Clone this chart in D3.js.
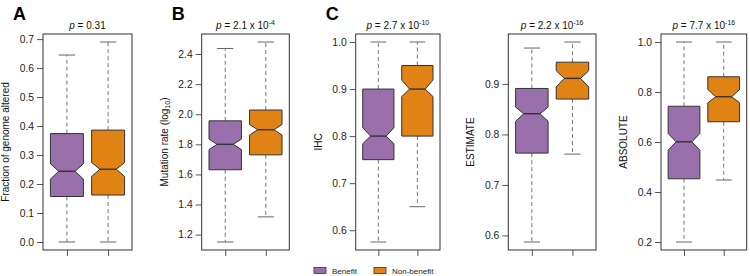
<!DOCTYPE html>
<html>
<head>
<meta charset="utf-8">
<script src="https://cdn.jsdelivr.net/npm/d3@7"></script>
<style>
  body { margin: 0; background: #fff; }
  svg { font-family: "Liberation Sans", Arial, sans-serif; }
</style>
</head>
<body>
<div id="vis"></div>
<script>
// panel data
const panelNames = ["Fraction of genome altered", "Mutation rate", "IHC", "ESTIMATE", "ABSOLUTE"];
const panelLetters = ["A", "B", "C", "", ""];
// p values as [mantissa, exponent]; exponent null means plain number
const pMantissa = ["0.31", "2.1", "2.7", "2.2", "7.7"];
const pExponent = [null, "-4", "-10", "-16", "-16"];
const groups = ["Benefit", "Non-benefit"];

// [whisker low, Q1, notch low, median, notch high, Q3, whisker high]
const benefitBoxes = [
  [0.0, 0.157, 0.217, 0.244, 0.270, 0.374, 0.645],
  [1.151, 1.631, 1.765, 1.800, 1.835, 1.956, 2.437],
  [0.575, 0.750, 0.784, 0.800, 0.818, 0.900, 1.0],
  [0.587, 0.763, 0.826, 0.841, 0.854, 0.891, 0.971],
  [0.200, 0.453, 0.567, 0.601, 0.634, 0.743, 1.0]
];
const nonBenefitBoxes = [
  [0.0, 0.162, 0.226, 0.251, 0.274, 0.386, 0.690],
  [1.318, 1.730, 1.862, 1.897, 1.932, 2.028, 2.480],
  [0.650, 0.800, 0.884, 0.900, 0.919, 0.950, 1.0],
  [0.761, 0.870, 0.894, 0.911, 0.926, 0.943, 0.983],
  [0.448, 0.681, 0.757, 0.781, 0.810, 0.861, 1.0]
];

const yTicks = [
  ["0.0", "0.1", "0.2", "0.3", "0.4", "0.5", "0.6", "0.7"],
  ["1.2", "1.4", "1.6", "1.8", "2.0", "2.2", "2.4"],
  ["0.6", "0.7", "0.8", "0.9", "1.0"],
  ["0.6", "0.7", "0.8", "0.9"],
  ["0.2", "0.4", "0.6", "0.8", "1.0"]
];

const width = 750;
const height = 276;
const colours = ["#9970ab", "#e08214"];

// left / right edge of each plot box
const panelLeft = [43, 201.7, 355.7, 508.3, 661];
const panelRight = [132, 289.3, 440, 596, 746.7];
const plotTop = 34;
const plotBottom = 250;

const svg = d3.select("#vis")
  .append("svg")
  .attr("width", width)
  .attr("height", height);

// x scale like R: positions 1 and 2, xlim 0.5..2.5 extended 4%
const xDomain = [0.42, 2.58];

panelNames.forEach((name, i) => {
  const left = panelLeft[i];
  const right = panelRight[i];
  const g = svg.append("g");

  const boxes = [benefitBoxes[i], nonBenefitBoxes[i]];
  const lo = d3.min(boxes, b => b[0]);
  const hi = d3.max(boxes, b => b[6]);
  const pad = (hi - lo) * 0.04;

  const x = d3.scaleLinear().domain(xDomain).range([left, right]);
  const y = d3.scaleLinear().domain([lo - pad, hi + pad]).range([plotBottom, plotTop]);

  // y axis ticks
  const yAxis = d3.axisLeft(y)
    .tickValues(yTicks[i].map(Number))
    .tickFormat((d, k) => yTicks[i][k])
    .tickSize(6)
    .tickPadding(3);
  const ya = g.append("g").attr("transform", `translate(${left},0)`).call(yAxis);
  ya.select(".domain").remove();
  ya.selectAll(".tick line").attr("stroke", "#555");
  ya.selectAll(".tick text")
    .attr("fill", "#222")
    .style("font-size", "10.3px")
    .style("font-family", "Liberation Sans, Arial, sans-serif");

  // x axis ticks, no labels
  const xAxis = d3.axisBottom(x).tickValues([1, 2]).tickFormat("").tickSize(6);
  const xa = g.append("g").attr("transform", `translate(0,${plotBottom})`).call(xAxis);
  xa.select(".domain").remove();
  xa.selectAll(".tick line").attr("stroke", "#555");

  // boxes
  boxes.forEach((b, k) => {
    const cx = k + 1;
    const w = 0.4;
    const [wLo, q1, nLo, med, nHi, q3, wHi] = b;

    // whiskers
    g.append("line")
      .attr("x1", x(cx)).attr("x2", x(cx))
      .attr("y1", y(q3)).attr("y2", y(wHi))
      .attr("stroke", "#777").attr("stroke-dasharray", "4,3");
    g.append("line")
      .attr("x1", x(cx)).attr("x2", x(cx))
      .attr("y1", y(q1)).attr("y2", y(wLo))
      .attr("stroke", "#777").attr("stroke-dasharray", "4,3");
    // staples
    [wLo, wHi].forEach(v => {
      g.append("line")
        .attr("x1", x(cx - w / 2)).attr("x2", x(cx + w / 2))
        .attr("y1", y(v)).attr("y2", y(v))
        .attr("stroke", "#666");
    });

    // notched box
    const pts = [
      [cx - w, q1], [cx - w, nLo], [cx - w / 2, med], [cx - w, nHi], [cx - w, q3],
      [cx + w, q3], [cx + w, nHi], [cx + w / 2, med], [cx + w, nLo], [cx + w, q1]
    ];
    g.append("polygon")
      .attr("points", pts.map(p => `${x(p[0])},${y(p[1])}`).join(" "))
      .attr("fill", colours[k])
      .attr("stroke", "#333")
      .attr("stroke-width", 1);
    g.append("line")
      .attr("x1", x(cx - w / 2)).attr("x2", x(cx + w / 2))
      .attr("y1", y(med)).attr("y2", y(med))
      .attr("stroke", "#333").attr("stroke-width", 1.4);
  });

  // frame
  g.append("rect")
    .attr("x", left).attr("y", plotTop)
    .attr("width", right - left).attr("height", plotBottom - plotTop)
    .attr("fill", "none").attr("stroke", "#333").attr("stroke-width", 1);

  // y label
  const lab = g.append("text")
    .attr("transform", `translate(${left - 34},${(plotTop + plotBottom) / 2}) rotate(-90)`)
    .attr("text-anchor", "middle")
    .style("font-size", "10px")
    .attr("fill", "#111")
    .text(name);
  if (i === 1) {
    lab.append("tspan").text(" (log");
    lab.append("tspan").attr("dy", 2).style("font-size", "7px").text("10");
    lab.append("tspan").attr("dy", -2).text(")");
  }

  // p value
  const pt = g.append("text")
    .attr("x", (left + right) / 2).attr("y", 29)
    .attr("text-anchor", "middle")
    .style("font-size", "10px")
    .attr("fill", "#111");
  pt.append("tspan").style("font-style", "italic").text("p");
  pt.append("tspan").text(" = " + pMantissa[i]);
  if (pExponent[i] !== null) {
    pt.append("tspan").text(" x 10");
    pt.append("tspan").attr("dy", -4).style("font-size", "7px").text(pExponent[i]);
  }

  // panel letter
  if (panelLetters[i]) {
    g.append("text")
      .attr("x", left - 30).attr("y", 20)
      .style("font-size", "18px").style("font-weight", "bold")
      .attr("fill", "#000")
      .text(panelLetters[i]);
  }
});

// legend
const legendX = [314, 374];
groups.forEach((grp, k) => {
  svg.append("rect")
    .attr("x", legendX[k]).attr("y", 267.5)
    .attr("width", 12).attr("height", 6)
    .attr("fill", colours[k]).attr("stroke", "#333").attr("stroke-width", 0.8);
  svg.append("text")
    .attr("x", legendX[k] + 18).attr("y", 273.5)
    .style("font-size", "8px")
    .attr("fill", "#222")
    .text(grp);
});
</script>
</body>
</html>
